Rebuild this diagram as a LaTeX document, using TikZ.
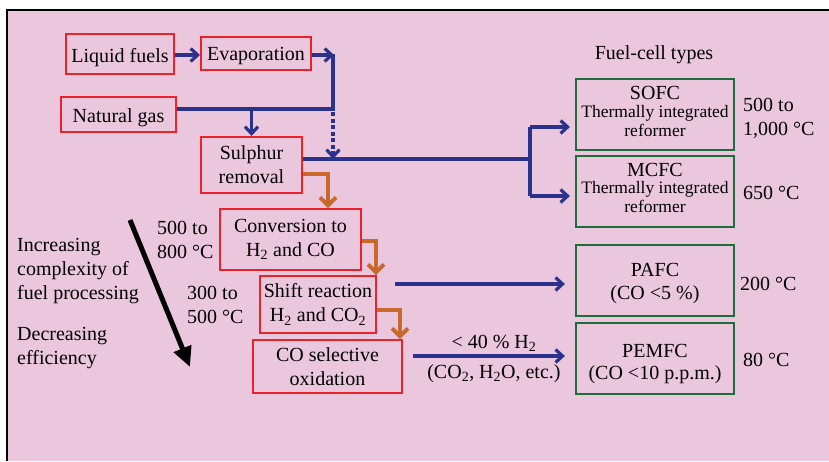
\documentclass[tikz,border=0pt]{standalone}
\usepackage{fontspec}
\setmainfont{Liberation Serif}
\usetikzlibrary{arrows.meta}
\definecolor{bgpink}{RGB}{235,199,222}
\definecolor{boxred}{RGB}{237,34,40}
\definecolor{boxgreen}{RGB}{30,108,58}
\definecolor{navy}{RGB}{43,50,140}
\definecolor{rust}{RGB}{200,104,42}
\begin{document}
\begin{tikzpicture}[x=1pt,y=-1pt,
  every node/.style={font=\fontsize{20}{24}\selectfont},
  redbox/.style={draw=boxred,line width=2pt,align=center,inner sep=0pt},
  oneline/.style={text height=#1,text depth=4pt},
  greenbox/.style={draw=boxgreen,line width=2.2pt,minimum width=158pt,minimum height=71pt,inner sep=0pt},
  txt/.style={inner sep=0pt,align=center},
  ltxt/.style={inner sep=0pt,align=left,anchor=west},
  small/.style={font=\fontsize{17.5}{21}\selectfont},
  bluearr/.style={draw=navy,line width=3.2pt,-{Straight Barb[length=7pt,width=13pt]}},
  blueline/.style={draw=navy,line width=3.2pt},
  orangearr/.style={draw=rust,line width=3.8pt,-{Straight Barb[length=8pt,width=16pt]}},
  bigarr/.style={draw=black,line width=5pt,-{Triangle[length=20pt,width=18pt]}}
]
\useasboundingbox (0,0) rectangle (829,461);
\fill[bgpink] (8,11) rectangle (829,461);
\draw[line width=2.2pt] (7,461) -- (7,10) -- (829,10);

% process boxes
\node[redbox,oneline=21pt,minimum width=108pt,minimum height=40pt] (lf) at (120,54) {Liquid fuels};
\node[redbox,oneline=18pt,minimum width=110pt,minimum height=33pt] (ev) at (256,53.5) {Evaporation};
\node[redbox,oneline=20pt,minimum width=115pt,minimum height=35pt] (ng) at (118.5,114.5) {Natural gas};
\node[redbox,minimum width=101pt,minimum height=56pt] (sr) at (251.5,165) {Sulphur\\removal};
\node[redbox,minimum width=141pt,minimum height=61pt] (cv) at (290.5,239.5) {Conversion to\\H\textsubscript{2} and CO};
\node[redbox,minimum width=116pt,minimum height=57pt] (sh) at (318,304.5) {Shift reaction\\H\textsubscript{2} and CO\textsubscript{2}};
\node[redbox,minimum width=149pt,minimum height=53pt] (co) at (327.5,366.5) {CO selective\\oxidation};

% fuel-cell boxes
\node[txt] (fct) at (654,55) {Fuel-cell types};
\node[greenbox] (sofc) at (655,114.5) {};
\node[txt] (sofcname) at (655,93) {SOFC};
\node[txt,small] (sofcsub) at (655,121) {Thermally integrated\\[-2pt]reformer};
\node[greenbox] (mcfc) at (655,191.5) {};
\node[txt] (mcfcname) at (655,170) {MCFC};
\node[txt,small] (mcfcsub) at (655,197) {Thermally integrated\\[-2pt]reformer};
\node[greenbox] (pafc) at (655,280.5) {};
\node[txt] (pafcname) at (655,270) {PAFC};
\node[txt] (pafcsub) at (655,295) {(CO <5 \%)};
\node[greenbox] (pemfc) at (655,358.5) {};
\node[txt] (pemfcname) at (655,351) {PEMFC};
\node[txt] (pemfcsub) at (655,375) {(CO <10 p.p.m.)};

% temperatures
\node[ltxt] (t1) at (743,118) {500 to\\1,000 °C};
\node[ltxt] (t2) at (743,193) {650 °C};
\node[ltxt] (t3) at (740,284) {200 °C};
\node[ltxt] (t4) at (743,360) {80 °C};
\node[ltxt] (t5) at (157,240) {500 to\\800 °C};
\node[ltxt] (t6) at (187,305) {300 to\\500 °C};

% left texts
\node[ltxt] (inc) at (17,271.5) {Increasing\\complexity of\\fuel processing};
\node[ltxt] (dec) at (17,348) {Decreasing\\efficiency};
\coordinate (bs) at (130,220);
\coordinate (be) at (190,367);
\draw[bigarr] (bs) -- (be);

% junctions
\coordinate (j1) at (333,55);
\coordinate (j2) at (333,109);
\coordinate (j3) at (333,159);
\coordinate (j4) at (530,159);
\coordinate (j5) at (530,127);
\coordinate (j6) at (530,196);

% blue connectors
\draw[bluearr] (lf.east |- j1) -- (ev.west |- j1);
\draw[bluearr,shorten >=-1pt] (ev.east |- j1) -- (j1);
\draw[blueline] (333,53.5) -- (j2) -- (ng.east |- j2);
\draw[bluearr] (sr.north |- j2) -- (sr.north);
\draw[bluearr,dash pattern=on 4pt off 2.5pt,shorten <=3pt] (j2) -- (j3);
\draw[blueline] (sr.east |- j3) -- (j4);
\draw[blueline] (j5) -- (j6);
\draw[bluearr,shorten >=5pt] (j5) -- (sofc.west |- j5);
\draw[bluearr,shorten >=5pt] (j6) -- (mcfc.west |- j6);
\coordinate (pa) at (395,284);
\draw[bluearr,shorten >=10pt] (pa) -- (pafc.west |- pa);
\coordinate (pe) at (413,356);
\draw[bluearr,shorten >=10pt] (pe) -- (pemfc.west |- pe)
  node[midway,above=3pt,inner sep=0pt] (h2lbl) {< 40 \% H\textsubscript{2}}
  node[midway,below=7pt,inner sep=0pt] (colbl) {(CO\textsubscript{2}, H\textsubscript{2}O, etc.)};

% orange connectors
\draw[orangearr] ([yshift=-9pt]sr.east) -| (cv.north -| 328,0);
\draw[orangearr] ([yshift=-1.5pt]cv.east) -| (sh.north -| 376,0);
\draw[orangearr] ([yshift=-5.5pt]sh.east) -| (co.north -| 400,0);
\end{tikzpicture}
\end{document}
